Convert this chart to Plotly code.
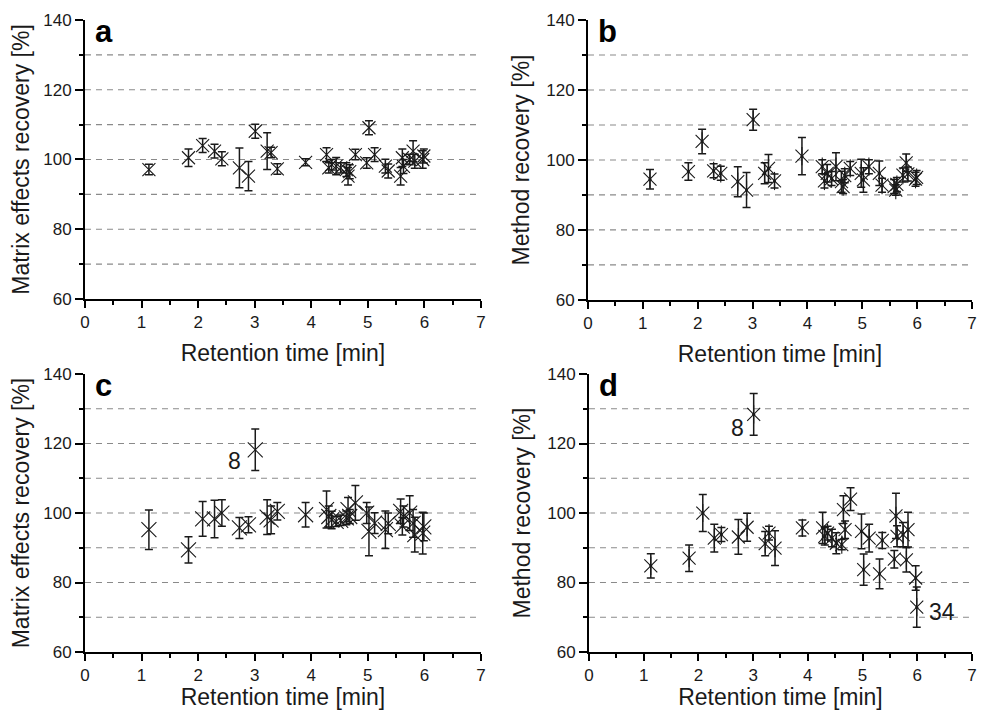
import plotly.graph_objects as go

# Retention times of the 34 compounds [min]
rt = [1.13, 1.83, 2.08, 2.29, 2.42, 2.73, 2.89, 3.01, 3.22, 3.29, 3.40, 3.90,
      4.27, 4.31, 4.36, 4.44, 4.52, 4.62, 4.65, 4.68, 4.78, 4.98, 5.02, 5.12,
      5.31, 5.36, 5.58, 5.61, 5.63, 5.74, 5.80, 5.83, 5.97, 5.99]

# a: matrix effects recovery (set 1)
a_val = [97.1, 100.5, 104.0, 102.4, 100.2, 97.6, 95.2, 108.1, 102.4, 102.0, 97.3, 99.2,
         101.4, 97.6, 98.5, 98.1, 97.6, 97.1, 95.2, 96.5, 101.4, 99.0, 109.1, 101.4,
         98.1, 96.7, 95.2, 100.5, 98.0, 100.0, 102.4, 99.5, 100.0, 101.0]
a_err = [1.5, 2.5, 2.0, 2.0, 2.0, 5.7, 4.2, 2.0, 5.3, 1.5, 1.5, 1.0,
         2.0, 1.5, 1.5, 2.5, 1.5, 2.0, 2.5, 2.0, 1.5, 1.5, 2.0, 2.0,
         2.0, 2.0, 2.5, 2.5, 2.0, 1.5, 3.0, 2.0, 2.5, 2.0]

# b: method recovery (set 1)
b_val = [94.5, 96.7, 105.3, 96.9, 96.2, 93.8, 91.4, 111.5, 96.2, 97.6, 94.0, 101.1,
         98.1, 94.0, 96.2, 94.7, 98.1, 93.8, 92.4, 95.5, 97.6, 96.2, 94.3, 98.1,
         96.2, 92.8, 92.4, 91.4, 93.0, 95.7, 99.2, 96.0, 94.5, 95.0]
b_err = [2.8, 2.5, 3.5, 2.0, 2.0, 4.3, 5.0, 3.0, 3.0, 4.0, 2.0, 5.3,
         2.0, 2.0, 2.5, 2.0, 4.0, 3.0, 2.0, 2.0, 2.0, 4.0, 3.5, 2.0,
         3.5, 2.0, 2.0, 1.5, 2.0, 2.0, 2.5, 2.0, 2.0, 2.0]

# c: matrix effects recovery (set 2)
c_val = [95.2, 89.4, 98.3, 98.3, 100.0, 95.7, 96.6, 118.2, 98.8, 98.0, 100.5, 99.5,
         101.0, 99.0, 98.0, 97.6, 97.9, 98.6, 101.0, 99.0, 102.9, 100.0, 94.7, 97.1,
         95.2, 97.0, 100.5, 96.2, 99.0, 100.0, 97.0, 93.8, 94.2, 96.0]
c_err = [5.7, 3.8, 5.0, 5.4, 3.8, 3.0, 2.3, 6.0, 5.0, 4.0, 2.5, 3.5,
         5.3, 3.0, 2.5, 1.5, 1.5, 2.0, 3.5, 2.0, 5.0, 3.0, 7.0, 3.0,
         5.4, 3.0, 3.5, 2.5, 3.0, 5.0, 4.0, 5.0, 6.0, 4.0]

# d: method recovery (set 2)
d_val = [84.8, 87.0, 100.0, 92.8, 93.8, 93.1, 95.9, 128.4, 91.2, 94.2, 89.9, 95.7,
         95.7, 93.3, 94.2, 92.8, 91.3, 90.9, 101.0, 95.2, 104.0, 94.7, 83.7, 92.8,
         82.5, 92.1, 86.7, 99.2, 93.3, 93.8, 86.5, 95.2, 81.3, 72.9]
d_err = [3.5, 3.8, 5.3, 4.0, 2.0, 5.0, 4.0, 6.0, 3.5, 2.0, 5.0, 2.3,
         4.5, 2.5, 2.0, 2.5, 3.0, 1.5, 4.0, 2.5, 3.3, 5.0, 4.5, 4.0,
         4.3, 2.3, 2.5, 6.5, 3.0, 3.5, 3.5, 5.0, 3.5, 5.8]

panel_letters = ["a", "b", "c", "d"]
y_titles = ["Matrix effects recovery [%]", "Method recovery [%]",
            "Matrix effects recovery [%]", "Method recovery [%]"]
x_title = "Retention time [min]"
grid_levels = [70, 80, 90, 100, 110, 120, 130]
x_ticks = [0, 1, 2, 3, 4, 5, 6, 7]
y_ticks = [60, 80, 100, 120, 140]

point_labels = [  # (panel index, text, x, y)
    (2, "8", 2.64, 114.9),
    (3, "8", 2.71, 124.6),
    (3, "34", 6.45, 71.6),
]

FONT = "Liberation Sans, Arial, sans-serif"
INK = "#1a1a1a"

# figure is placed by the page with an 8px body margin
W, H = 972, 702
domains_x = [[0.0792, 0.4866], [0.5967, 0.9918], [0.0792, 0.4866], [0.5977, 0.9918]]
domains_y = [[0.5855, 0.9829], [0.5841, 0.9829], [0.0826, 0.4786], [0.0826, 0.4786]]
x_standoff = [14, 14, 8, 8]

vals = [a_val, b_val, c_val, d_val]
errs = [a_err, b_err, c_err, d_err]
asterisk = [False, True, False, True]
msize = [13, 13, 15, 13]

fig = go.Figure()

for i in range(4):
    xa = "x" if i == 0 else f"x{i+1}"
    ya = "y" if i == 0 else f"y{i+1}"
    fig.add_trace(go.Scatter(
        x=rt, y=vals[i], mode="markers", xaxis=xa, yaxis=ya,
        marker=dict(symbol="x-thin-open", size=msize[i], color=INK,
                    line=dict(width=1.1, color=INK)),
        error_y=dict(type="data", array=errs[i], visible=True,
                     color=INK, thickness=1.5, width=4),
        showlegend=False, hoverinfo="x+y"))
    if asterisk[i]:
        fig.add_trace(go.Scatter(
            x=rt, y=vals[i], mode="markers", xaxis=xa, yaxis=ya,
            marker=dict(symbol="line-ns-open", size=msize[i], color=INK,
                        line=dict(width=1.1, color=INK)),
            showlegend=False, hoverinfo="skip"))
        fig.add_trace(go.Scatter(
            x=rt, y=vals[i], mode="markers", xaxis=xa, yaxis=ya,
            marker=dict(symbol="circle", size=3, color=INK),
            showlegend=False, hoverinfo="skip"))

layout = dict(
    template="none",
    width=W, height=H,
    margin=dict(l=0, r=0, t=0, b=0, autoexpand=False),
    paper_bgcolor="white", plot_bgcolor="white",
    font=dict(family=FONT, color=INK, size=17),
)

for i in range(4):
    sx = "" if i == 0 else str(i + 1)
    layout[f"xaxis{sx}"] = dict(
        domain=domains_x[i], range=[0, 7], anchor=f"y{sx}", automargin=False,
        tickvals=x_ticks, ticks="outside", ticklen=7, tickwidth=1.5,
        tickcolor="black", showline=True, linecolor="black", linewidth=1.8,
        showgrid=False, zeroline=False, ticklabeloverflow="allow",
        minor=dict(dtick=0.5, ticks="outside", ticklen=4, tickwidth=1.5,
                   tickcolor="black", showgrid=False),
        tickfont=dict(size=17, family=FONT, color=INK),
        title=dict(text=x_title, font=dict(size=23, family=FONT, color=INK),
                   standoff=x_standoff[i]),
    )
    layout[f"yaxis{sx}"] = dict(
        domain=domains_y[i], range=[60, 140], anchor=f"x{sx}", automargin=False,
        tickvals=y_ticks, ticks="outside", ticklen=8, tickwidth=1.5,
        tickcolor="black", showline=True, linecolor="black", linewidth=1.8,
        showgrid=False, zeroline=False, ticklabeloverflow="allow",
        minor=dict(dtick=10, ticks="outside", ticklen=4, tickwidth=1.5,
                   tickcolor="black", showgrid=False),
        tickfont=dict(size=17, family=FONT, color=INK),
        title=dict(text=y_titles[i], font=dict(size=23, family=FONT, color=INK),
                   standoff=10),
    )

shapes = []
annotations = []
for i in range(4):
    sx = "" if i == 0 else str(i + 1)
    for lv in grid_levels:
        shapes.append(dict(type="line", xref=f"x{sx} domain", yref=f"y{sx}",
                           x0=0, x1=1, y0=lv, y1=lv, layer="below",
                           line=dict(color="#8a8a8a", width=1.2, dash="6px,5px")))
    annotations.append(dict(text=f"<b>{panel_letters[i]}</b>",
                            xref=f"x{sx} domain", yref=f"y{sx} domain",
                            x=0.02, y=1.03, xanchor="left", yanchor="top",
                            showarrow=False,
                            font=dict(size=31, family=FONT, color="black")))

for (p, txt, px, py) in point_labels:
    sx = "" if p == 0 else str(p + 1)
    annotations.append(dict(text=txt, xref=f"x{sx}", yref=f"y{sx}",
                            x=px, y=py, showarrow=False,
                            font=dict(size=23, family=FONT, color=INK)))

layout["shapes"] = shapes
layout["annotations"] = annotations
fig.update_layout(**layout)

fig.write_html("out.html")
